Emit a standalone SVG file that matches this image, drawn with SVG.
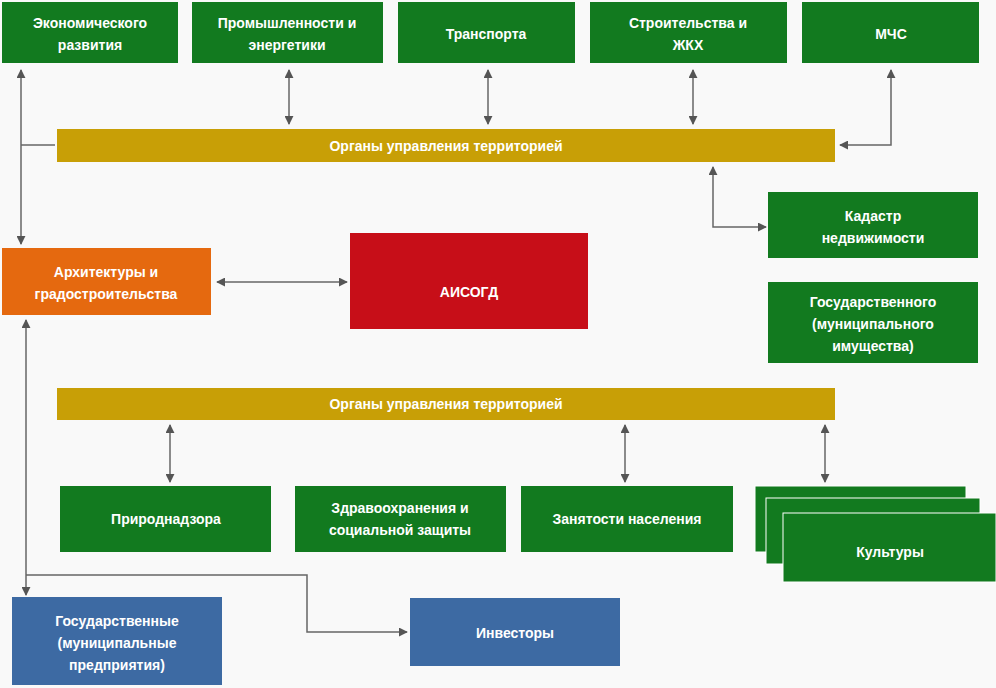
<svg xmlns="http://www.w3.org/2000/svg" width="996" height="688" viewBox="0 0 996 688">
<defs>
<marker id="ah" viewBox="0 0 10 10" refX="9" refY="5" markerWidth="9" markerHeight="9" markerUnits="userSpaceOnUse" orient="auto-start-reverse"><path d="M0,0 L10,5 L0,10 Z" fill="#555"/></marker>
<style>
.g{fill:#127a1f}.y{fill:#c89f06}.t{font-family:"Liberation Sans",Arial,sans-serif;font-weight:bold;font-size:14px;fill:#fff;text-anchor:middle}
.ln{stroke:#666;stroke-width:1.5;fill:none}
</style>
</defs>
<rect width="996" height="688" fill="#f9f9f9"/>
<g id="econ"><rect class="g" x="2" y="2" width="176" height="61"/><text class="t" x="90" y="28">Экономического</text><text class="t" x="90" y="50">развития</text></g>
<g id="prom"><rect class="g" x="192" y="2" width="191" height="61"/><text class="t" x="287" y="28">Промышленности и</text><text class="t" x="287" y="50">энергетики</text></g>
<g id="trans"><rect class="g" x="398" y="2" width="177" height="61"/><text class="t" x="486" y="39">Транспорта</text></g>
<g id="stroi"><rect class="g" x="590" y="2" width="197" height="61"/><text class="t" x="688" y="28">Строительства и</text><text class="t" x="688" y="50">ЖКХ</text></g>
<g id="mchs"><rect class="g" x="802" y="2" width="177" height="61"/><text class="t" x="891" y="39">МЧС</text></g>
<g id="bar1"><rect class="y" x="57" y="129" width="778" height="33"/><text class="t" x="446" y="151" font-size="13">Органы управления территорией</text></g>
<g id="kadastr"><rect class="g" x="768" y="192" width="210" height="66"/><text class="t" x="873" y="221">Кадастр</text><text class="t" x="873" y="243">недвижимости</text></g>
<g id="imush"><rect class="g" x="768" y="282" width="210" height="81"/><text class="t" x="873" y="307">Государственного</text><text class="t" x="873" y="329">(муниципального</text><text class="t" x="873" y="351">имущества)</text></g>
<g id="arch"><rect x="2" y="248" width="209" height="67" fill="#e5690f"/><text class="t" x="106" y="277">Архитектуры и</text><text class="t" x="106" y="299">градостроительства</text></g>
<g id="aisogd"><rect x="350" y="233" width="238" height="96" fill="#c70e18"/><text class="t" x="469" y="297" font-size="44">АИСОГД</text></g>
<g id="bar2"><rect class="y" x="57" y="388" width="778" height="32"/><text class="t" x="446" y="409" font-size="13">Органы управления территорией</text></g>
<g id="prir"><rect class="g" x="60" y="486" width="211" height="66"/><text class="t" x="166" y="524">Природнадзора</text></g>
<g id="zdrav"><rect class="g" x="295" y="486" width="211" height="66"/><text class="t" x="400" y="513">Здравоохранения и</text><text class="t" x="400" y="535">социальной защиты</text></g>
<g id="zan"><rect class="g" x="521" y="486" width="212" height="66"/><text class="t" x="627" y="524">Занятости населения</text></g>
<g id="kult"><rect class="g" x="755" y="486" width="211" height="66" stroke="#fff"/><rect class="g" x="766" y="498" width="214" height="66" stroke="#fff"/><rect class="g" x="783" y="513" width="213" height="69" stroke="#fff"/><text class="t" x="890" y="557">Культуры</text></g>
<g id="gosp"><rect x="12" y="597" width="210" height="88" fill="#3d6aa3"/><text class="t" x="117" y="626">Государственные</text><text class="t" x="117" y="648">(муниципальные</text><text class="t" x="117" y="670">предприятия)</text></g>
<g id="invest"><rect x="410" y="598" width="210" height="68" fill="#3d6aa3"/><text class="t" x="515" y="638">Инвесторы</text></g>
<g id="connectors" class="ln">
<path d="M21,70 V244" marker-start="url(#ah)" marker-end="url(#ah)"/>
<path d="M21,145 H55"/>
<path d="M289,70 V124" marker-start="url(#ah)" marker-end="url(#ah)"/>
<path d="M488,70 V124" marker-start="url(#ah)" marker-end="url(#ah)"/>
<path d="M693,70 V124" marker-start="url(#ah)" marker-end="url(#ah)"/>
<path d="M891,70 V145 H840" marker-start="url(#ah)" marker-end="url(#ah)"/>
<path d="M713,167 V227 H766" marker-start="url(#ah)" marker-end="url(#ah)"/>
<path d="M217,282 H347" marker-start="url(#ah)" marker-end="url(#ah)"/>
<path d="M170,425 V482" marker-start="url(#ah)" marker-end="url(#ah)"/>
<path d="M625,425 V482" marker-start="url(#ah)" marker-end="url(#ah)"/>
<path d="M825,425 V482" marker-start="url(#ah)" marker-end="url(#ah)"/>
<path d="M26,320 V595" marker-start="url(#ah)" marker-end="url(#ah)"/>
<path d="M26,575 H307 V632 H407" marker-end="url(#ah)"/>
</g>
</svg>
